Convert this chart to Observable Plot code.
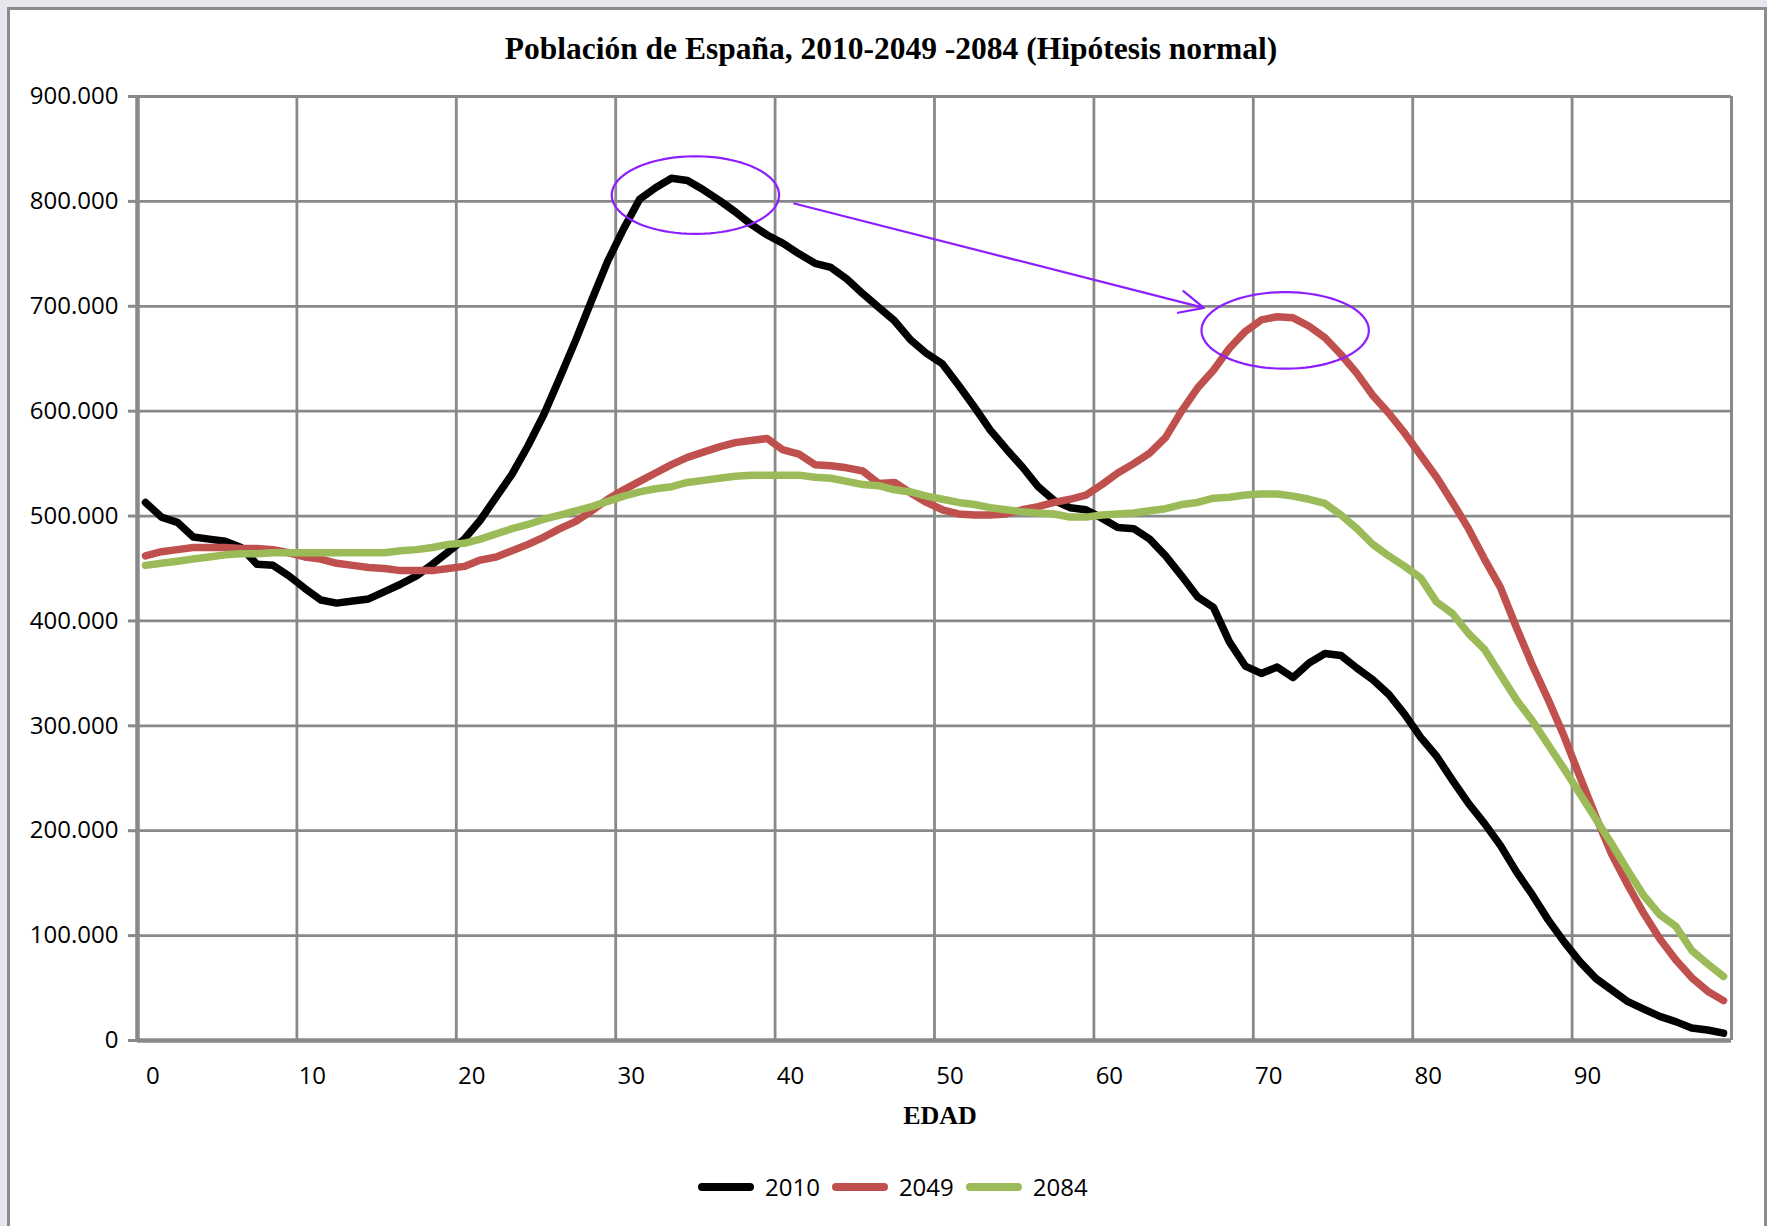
<!DOCTYPE html>
<html>
<head>
<meta charset="utf-8">
<script src="https://cdn.jsdelivr.net/npm/d3@7"></script>
<script src="https://cdn.jsdelivr.net/npm/@observablehq/plot@0.6"></script>
<style>
  html, body { margin: 0; padding: 0; width: 1767px; height: 1226px; overflow: hidden; background: #e6e6ed; }
  #sheet { position: absolute; left: 7px; top: 7px; width: 1760px; height: 1240px; box-sizing: border-box;
           background: #fff; border: 3px solid #8c8c8c; border-bottom: none; }
  #title { position: absolute; left: 0; width: 1782px; top: 30px; text-align: center;
           font: bold 31.5px "Liberation Serif", "DejaVu Serif", serif; line-height: 38px; color: #000; }
  #chart { position: absolute; left: 0; top: 60px; }
  #xtitle { position: absolute; left: 0; width: 1880px; top: 1101px; text-align: center;
            font: bold 26px "Liberation Serif", "DejaVu Serif", serif; line-height: 30px; color: #000; }
  #legend { position: absolute; left: 698px; top: 1172px; height: 30px; display: flex; align-items: center;
            font: 24px "Open Sans", sans-serif; color: #000; }
  #legend .sw { width: 56px; height: 7.5px; border-radius: 4px; margin-right: 11px; }
  #legend .lb { margin-right: 12px; line-height: 30px; }
</style>
</head>
<body>
<div id="sheet"></div>
<div id="title">Población de España, 2010-2049 -2084 (Hipótesis normal)</div>
<div id="chart"></div>
<div id="xtitle">EDAD</div>
<div id="legend"></div>
<script>
// Ages 0–99 (one category per year of age)
const ages = d3.range(0, 100);

// Population by single year of age, 2010
const pop2010 = [
  513000, 499000, 494000, 480000, 478000, 476000, 470000, 454000, 453000, 443000,
  431000, 420000, 417000, 419000, 421000, 428000, 435000, 443000, 454000, 466000,
  478000, 496000, 518000, 540000, 567000, 597000, 632000, 668000, 706000, 743000,
  774000, 802000, 813000, 822000, 820000, 811000, 801000, 790000, 778000, 768000,
  760000, 750000, 741000, 737000, 726000, 712000, 699000, 686000, 668000, 655000,
  645000, 625000, 604000, 582000, 564000, 547000, 528000, 515000, 508000, 506000,
  498000, 489000, 488000, 478000, 462000, 443000, 423000, 413000, 380000, 357000,
  350000, 356000, 346000, 360000, 369000, 367000, 355000, 344000, 330000, 311000,
  289000, 271000, 248000, 226000, 207000, 186000, 161000, 139000, 115000, 94000,
  75000, 59000, 48000, 37000, 30000, 23000, 18000, 12000, 10000, 7000
];

// Projection for 2049
const pop2049 = [
  462000, 466000, 468000, 470000, 470000, 470000, 469000, 469000, 468000, 465000,
  461000, 459000, 455000, 453000, 451000, 450000, 448000, 448000, 448000, 450000,
  452000, 458000, 461000, 467000, 473000, 480000, 488000, 495000, 505000, 516000,
  525000, 533000, 541000, 549000, 556000, 561000, 566000, 570000, 572000, 574000,
  563000, 559000, 549000, 548000, 546000, 543000, 531000, 532000, 522000, 513000,
  506000, 502000, 501000, 501000, 502000, 506000, 509000, 513000, 516000, 520000,
  530000, 541000, 550000, 560000, 575000, 600000, 622000, 639000, 660000, 676000,
  687000, 690000, 689000, 681000, 670000, 654000, 636000, 615000, 598000, 579000,
  558000, 537000, 513000, 488000, 459000, 432000, 394000, 358000, 325000, 290000,
  251000, 213000, 177000, 148000, 121000, 97000, 77000, 60000, 47000, 38000
];

// Projection for 2084
const pop2084 = [
  453000, 455000, 457000, 459000, 461000, 463000, 464000, 464000, 465000, 465000,
  465000, 465000, 465000, 465000, 465000, 465000, 467000, 468000, 470000, 473000,
  474000, 478000, 483000, 488000, 492000, 497000, 501000, 505000, 509000, 514000,
  519000, 523000, 526000, 528000, 532000, 534000, 536000, 538000, 539000, 539000,
  539000, 539000, 537000, 536000, 533000, 530000, 529000, 525000, 523000, 519000,
  516000, 513000, 511000, 508000, 506000, 504000, 503000, 502000, 499000, 499000,
  501000, 502000, 503000, 505000, 507000, 511000, 513000, 517000, 518000, 520000,
  521000, 521000, 519000, 516000, 512000, 501000, 488000, 473000, 462000, 452000,
  441000, 418000, 407000, 388000, 373000, 349000, 325000, 305000, 282000, 259000,
  235000, 211000, 187000, 162000, 138000, 120000, 109000, 86000, 73000, 61000
];

const years = ["2010", "2049", "2084"];
const colors = ["#000000", "#c0504d", "#9bbb59"];
const xTicks = [0, 10, 20, 30, 40, 50, 60, 70, 80, 90];
const yTicks = [0, 100000, 200000, 300000, 400000, 500000, 600000, 700000, 800000, 900000];

// Highlighted peaks (centre in data units, radii in years / persons) and the arrow joining them
const highlightAge = [34.5, 71.5];
const highlightValue = [806000, 677000];
const highlightRx = [5.25, 5.25];
const highlightRy = [37000, 36500];
const arrowFrom = {age: 40.7, value: 798000};
const arrowTo = {age: 66.4, value: 698500};

const seriesValues = [pop2010, pop2049, pop2084];
const rows = seriesValues.flatMap((vals, s) => vals.map((v, i) => ({age: ages[i], value: v, year: years[s]})));

const ellipseRows = highlightAge.flatMap((a, k) =>
  d3.range(0, 361, 4).map(t => ({
    k,
    age: a + highlightRx[k] * Math.cos(t * Math.PI / 180),
    value: highlightValue[k] + highlightRy[k] * Math.sin(t * Math.PI / 180)
  }))
);

const esFormat = d3.formatLocale({decimal: ",", thousands: ".", grouping: [3], currency: ["", " €"]}).format(",d");
const gridColor = "#898989";
const accent = "#8c1eff";

const chart = Plot.plot({
  width: 1767,
  height: 1070,
  marginLeft: 137,
  marginRight: 36,
  marginTop: 36,
  marginBottom: 90,
  x: {domain: [-0.5, 99.5], axis: null},
  y: {domain: [0, 900000], axis: null},
  color: {domain: years, range: colors},
  style: {fontFamily: "'Open Sans', sans-serif", fontSize: "24px", color: "#000", background: "transparent", overflow: "visible"},
  marks: [
    Plot.ruleY(yTicks, {stroke: gridColor, strokeWidth: 2.8}),
    Plot.ruleX(xTicks.filter(d => d > 0).map(d => d - 0.5), {stroke: gridColor, strokeWidth: 2.8}),
    Plot.ruleX([99.5], {stroke: gridColor, strokeWidth: 3}),
    Plot.ruleX([-0.5], {stroke: gridColor, strokeWidth: 4.5}),
    Plot.ruleY([0], {stroke: gridColor, strokeWidth: 4.5}),
    Plot.axisY({ticks: yTicks, tickSize: 9, tickPadding: 10, tickFormat: esFormat, stroke: gridColor, strokeWidth: 3, fill: "#000"}),
    Plot.axisX({ticks: xTicks, tickSize: 0, tickPadding: 26, dx: 7.5, fill: "#000"}),
    Plot.line(rows, {x: "age", y: "value", z: "year", stroke: "year", strokeWidth: 7.5, strokeLinejoin: "round", strokeLinecap: "round"}),
    Plot.line(ellipseRows, {x: "age", y: "value", z: "k", stroke: accent, strokeWidth: 2.2}),
    Plot.arrow([{x1: arrowFrom.age, y1: arrowFrom.value, x2: arrowTo.age, y2: arrowTo.value}],
      {x1: "x1", y1: "y1", x2: "x2", y2: "y2", stroke: accent, strokeWidth: 2.2, headAngle: 50, headLength: 18})
  ]
});
document.getElementById("chart").appendChild(chart);

// Legend below the chart
const legend = document.getElementById("legend");
years.forEach((y, i) => {
  const sw = document.createElement("span");
  sw.className = "sw";
  sw.style.background = colors[i];
  const lb = document.createElement("span");
  lb.className = "lb";
  lb.textContent = y;
  legend.appendChild(sw);
  legend.appendChild(lb);
});
</script>
</body>
</html>
